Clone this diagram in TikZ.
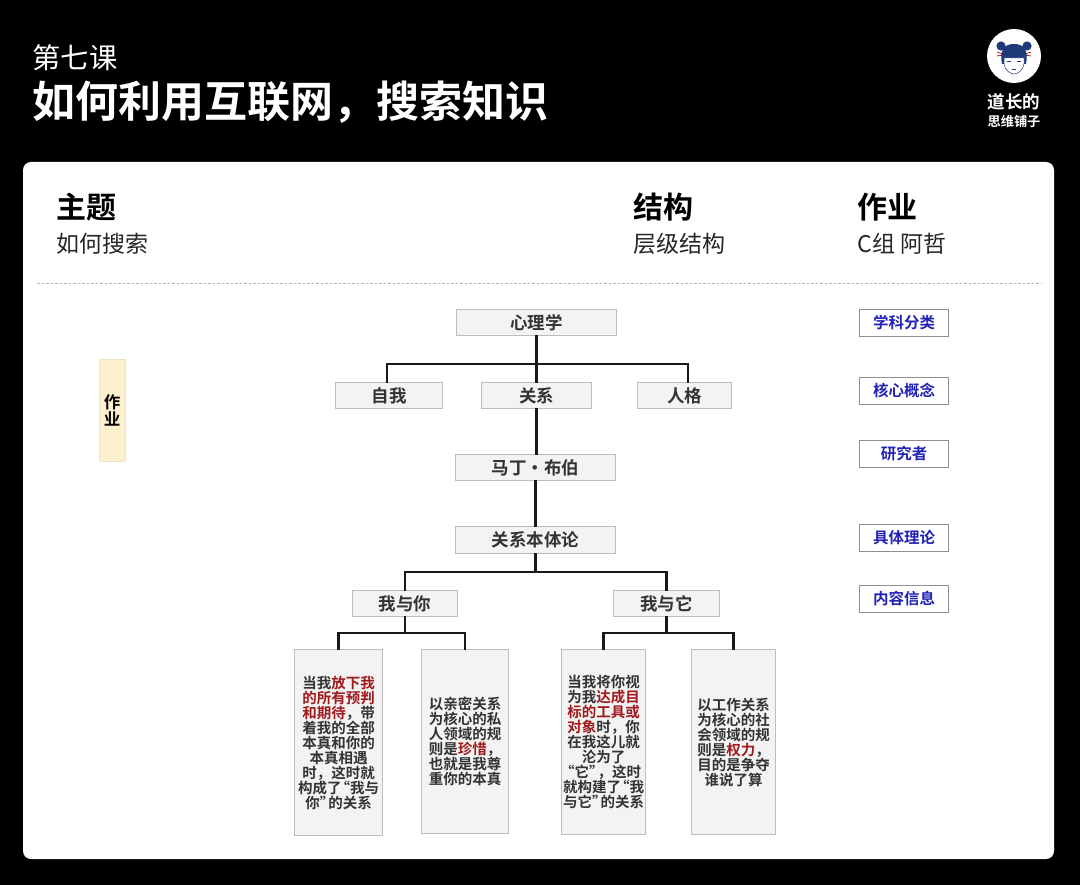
\documentclass[tikz,border=0pt]{standalone}
\usepackage{fontspec}
\setmainfont{Noto Sans CJK SC}
\newfontfamily\cjk{Noto Sans CJK SC}[BoldFont={Noto Sans CJK SC Bold}]
\definecolor{boxline}{HTML}{BDBDBD}
\definecolor{boxfill}{HTML}{F3F3F3}
\definecolor{boxtext}{HTML}{333333}
\definecolor{keyred}{HTML}{A01A1E}
\definecolor{tagblue}{HTML}{2222B4}
\definecolor{tagline}{HTML}{8F8F8F}
\definecolor{notefill}{HTML}{FCF0CF}
\definecolor{noteline}{HTML}{F0E3BE}
\definecolor{hairblue}{HTML}{1E3A78}
\newcommand{\keytxt}[1]{\textcolor{keyred}{#1}}
\newcommand{\openq}{\kern-6pt“}
\newcommand{\closeq}{”\kern-6pt}
\tikzset{
  boxnode/.style={draw=boxline,fill=boxfill,line width=0.9pt,inner sep=0pt,minimum height=26.5pt,text=boxtext,font=\cjk\bfseries\fontsize{17.5}{20}\selectfont},
  leafnode/.style={draw=boxline,fill=boxfill,line width=0.9pt,inner sep=0pt,align=center,text=boxtext,font=\cjk\bfseries\fontsize{14.5}{15}\selectfont},
  tagnode/.style={draw=tagline,fill=white,line width=0.8pt,inner sep=0pt,minimum width=89.5pt,minimum height=27pt,text=tagblue,font=\cjk\bfseries\fontsize{15.5}{18}\selectfont},
  headnode/.style={anchor=west,inner sep=0pt,text=black,font=\cjk\bfseries\fontsize{30}{34}\selectfont},
  subnode/.style={anchor=west,inner sep=0pt,text=black!85,font=\cjk\fontsize{23}{26}\selectfont},
  link/.style={line width=2.2pt,black!90,line cap=rect},
}
\begin{document}
\begin{tikzpicture}[x=1pt,y=-1pt]
  \fill[black] (0,0) rectangle (1080,885);
  \useasboundingbox (0,0) rectangle (1080,885);
  \fill[white,rounded corners=8pt] (23,162) rectangle (1054,859);
  \draw[black!30,line width=1pt,dash pattern=on 2.5pt off 2pt] (37,283.5) -- (1041,283.5);

  \node[anchor=west,inner sep=0pt,text=white,font=\cjk\fontsize{28.3}{32}\selectfont] (lesson) at (32.5,58) {第七课};
  \node[anchor=west,inner sep=0pt,text=white,font=\cjk\bfseries\fontsize{43}{48}\selectfont] (title) at (32,102) {如何利用互联网，搜索知识};

  \fill[white] (1014,56) circle (27);
  \fill[hairblue] (1001,46) circle (4.6) (1027,46) circle (4.6);
  \draw[red!70!black,line width=0.7pt] (997,52) -- (1003,54) (997,56) -- (1003,55) (1031,52) -- (1025,54) (1031,56) -- (1025,55);
  \fill[hairblue] (1002,64) .. controls (999,48) and (1006,44) .. (1014,44) .. controls (1022,44) and (1029,48) .. (1026,64) -- (1024,64) -- (1024,58) -- (1004,58) -- (1004,64) -- cycle;
  \draw[hairblue,line width=0.5pt,fill=white] (1004,58) -- (1024,58) -- (1024,64) .. controls (1023,70) and (1018,74) .. (1014,74) .. controls (1010,74) and (1005,70) .. (1004,64) -- cycle;
  \draw[hairblue,line width=0.7pt] (1007,61.5) -- (1011,61.5) (1017,61.5) -- (1021,61.5) (1012,69) -- (1016,69);
  \node[inner sep=0pt,text=white,font=\cjk\bfseries\fontsize{17.5}{20}\selectfont] (brand) at (1014,102) {道长的};
  \node[inner sep=0pt,text=white,font=\cjk\bfseries\fontsize{13.2}{16}\selectfont] (brandsub) at (1014,121) {思维铺子};

  \node[headnode] (zt) at (56.5,207) {主题};
  \node[subnode] (ztsub) at (56.5,244) {如何搜索};
  \node[headnode] (jg) at (633,207) {结构};
  \node[subnode] (jgsub) at (633,244) {层级结构};
  \node[headnode] (zy) at (857.5,207) {作业};
  \node[subnode] (zysub) at (857.5,244) {C组 阿哲};

  \node[draw=noteline,fill=notefill,line width=0.8pt,inner sep=0pt,minimum width=26.5pt,minimum height=102pt,align=center,text=black,font=\cjk\bfseries\fontsize{16.5}{17.5}\selectfont] (note) at (112.2,410.5) {作\\业};

  \node[boxnode,minimum width=160.5pt] (xlx) at (536.5,322.5) {心理学};
  \node[boxnode,minimum width=107.5pt] (zw) at (389,395.5) {自我};
  \node[boxnode,minimum width=110.5pt] (gx) at (536.5,395.5) {关系};
  \node[boxnode,minimum width=94.5pt] (rg) at (684.5,395.5) {人格};
  \node[boxnode,minimum width=160.5pt] (mdby) at (535.5,467.5) {马丁•布伯};
  \node[boxnode,minimum width=160.5pt] (gxbt) at (535.5,540) {关系本体论};
  \node[boxnode,minimum width=105.5pt] (wyn) at (405,603.5) {我与你};
  \node[boxnode,minimum width=106.5pt] (wyt) at (666.5,603.5) {我与它};

  \node[leafnode,minimum width=88.5pt,minimum height=186.5pt] (leafa) at (338.5,742.5) {当我\keytxt{放下我}\\\keytxt{的所有预判}\\\keytxt{和期待}，带\\着我的全部\\本真和你的\\本真相遇\\时，这时就\\构成了\openq 我与\\你\closeq 的关系};
  \node[leafnode,minimum width=87.5pt,minimum height=184.5pt] (leafb) at (465,741.5) {以亲密关系\\为核心的私\\人领域的规\\则是\keytxt{珍惜}，\\也就是我尊\\重你的本真};
  \node[leafnode,minimum width=84.5pt,minimum height=185.5pt] (leafc) at (603.5,742) {当我将你视\\为我\keytxt{达成目}\\\keytxt{标的工具或}\\\keytxt{对象}时，你\\在我这儿就\\沦为了\\\openq 它\closeq ，这时\\就构建了\openq 我\\与它\closeq 的关系};
  \node[leafnode,minimum width=84.5pt,minimum height=185.5pt] (leafd) at (733.5,742) {以工作关系\\为核心的社\\会领域的规\\则是\keytxt{权力}，\\目的是争夺\\谁说了算};

  \coordinate (busa) at (536.5,364);
  \coordinate (dropa) at (387,364);
  \coordinate (dropb) at (688,364);
  \coordinate (busb) at (535.5,572);
  \draw[link] (xlx.south) -- (gx.north);
  \draw[link] (dropa |- zw.north) -- (dropa) -- (dropb) -- (dropb |- rg.north);
  \draw[link] (gx.south) -- (gx.south |- mdby.north);
  \draw[link] (mdby.south) -- (gxbt.north);
  \draw[link] (gxbt.south) -- (busb);
  \draw[link] (wyn.north) -- (wyn.north |- busb) -- (wyt.north |- busb) -- (wyt.north);
  \draw[link] (wyn.south) -- ++(0,16) coordinate (busc);
  \draw[link] (leafa.north) -- (leafa.north |- busc) -- (leafb.north |- busc) -- (leafb.north);
  \draw[link] (wyt.south) -- ++(0,16) coordinate (busd);
  \draw[link] (leafc.north) -- (leafc.north |- busd) -- (leafd.north |- busd) -- (leafd.north);

  \node[tagnode] (tagxk) at (904,322.5) {学科分类};
  \node[tagnode] (taghx) at (904,390.5) {核心概念};
  \node[tagnode] (tagyj) at (904,454) {研究者};
  \node[tagnode] (tagjt) at (904,538) {具体理论};
  \node[tagnode] (tagnr) at (904,599) {内容信息};
\end{tikzpicture}
\end{document}
